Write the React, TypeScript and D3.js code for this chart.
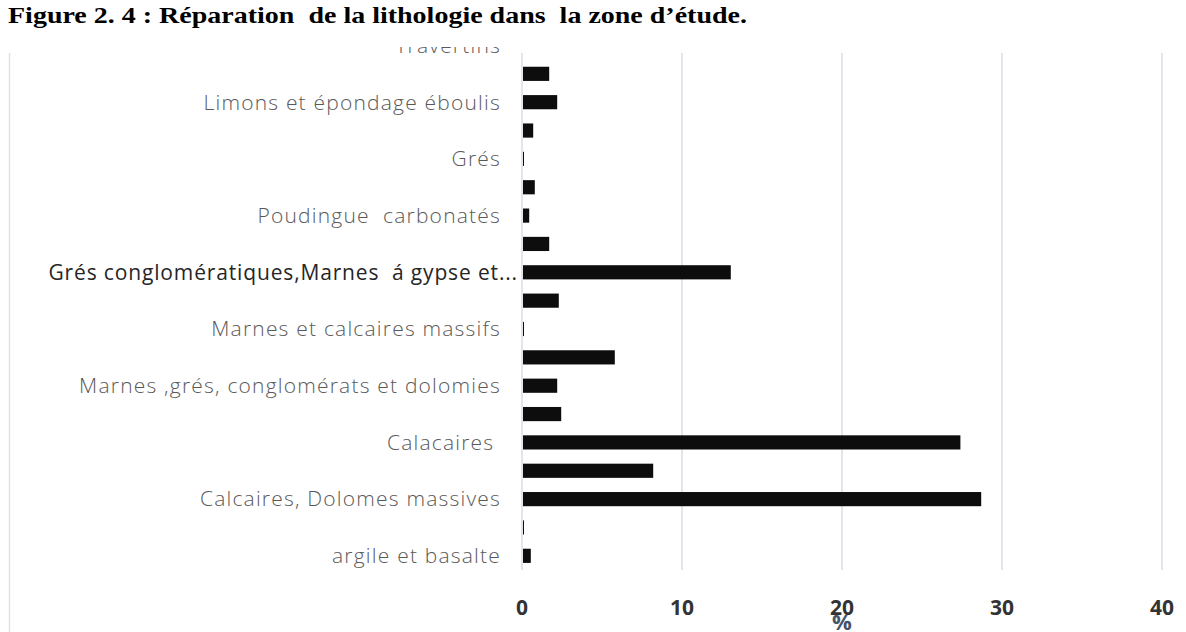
import React, { useEffect, useRef } from "react";
import * as d3 from "d3";

// top to bottom, as in the chart (Excel only shows every other label)
const categories = [
  "Travertins",
  "",
  "Limons et épondage éboulis",
  "",
  "Grés",
  "",
  "Poudingue  carbonatés",
  "",
  "Grés conglomératiques,Marnes  á gypse et...",
  "",
  "Marnes et calcaires massifs",
  "",
  "Marnes ,grés, conglomérats et dolomies",
  "",
  "Calacaires ",
  "",
  "Calcaires, Dolomes massives",
  "",
  "argile et basalte",
];
const values = [
  1.2, 1.7, 2.2, 0.7, 0.1, 0.8, 0.45, 1.7, 13.05, 2.3, 0.1, 5.8, 2.2, 2.45,
  27.4, 8.2, 28.7, 0.1, 0.55,
];
const ticks = [0, 10, 20, 30, 40];

const W = 1186;
const H = 632;

export default function App() {
  const ref = useRef<SVGSVGElement>(null);

  useEffect(() => {
    document.body.style.margin = "0";
    const svg = d3.select(ref.current);
    svg.selectAll("*").remove();

    const x = d3.scaleLinear().domain([0, 40]).range([522, 1162]);
    const y = d3
      .scaleBand<number>()
      .domain(d3.range(categories.length))
      .range([31.3, 570])
      .paddingInner(0.5)
      .paddingOuter(0.25);

    const defs = svg.append("defs");
    defs
      .append("clipPath")
      .attr("id", "plotClip")
      .append("rect")
      .attr("x", 0)
      .attr("y", 53)
      .attr("width", W)
      .attr("height", H - 53);
    defs
      .append("clipPath")
      .attr("id", "labelClip")
      .append("rect")
      .attr("x", 0)
      .attr("y", 47)
      .attr("width", W)
      .attr("height", H - 47);

    // chart border (left edge visible)
    svg
      .append("line")
      .attr("x1", 9.5)
      .attr("x2", 9.5)
      .attr("y1", 53)
      .attr("y2", H)
      .attr("stroke", "#dde1e8")
      .attr("stroke-width", 1.5);

    const plot = svg.append("g").attr("clip-path", "url(#plotClip)");

    // gridlines
    plot
      .selectAll(".grid")
      .data(ticks)
      .enter()
      .append("line")
      .attr("x1", (d) => x(d))
      .attr("x2", (d) => x(d))
      .attr("y1", 53)
      .attr("y2", 570)
      .attr("stroke", "#d9dde6")
      .attr("stroke-width", 1.5);

    // bars
    plot
      .selectAll(".bar")
      .data(values)
      .enter()
      .append("rect")
      .attr("x", x(0) + 1)
      .attr("y", (_d, i) => y(i)!)
      .attr("width", (d) => Math.max(1, x(d) - x(0) - 1))
      .attr("height", y.bandwidth())
      .attr("fill", "#0d0d0d");

    // category labels
    const labels = svg.append("g").attr("clip-path", "url(#labelClip)");
    categories.forEach((c, i) => {
      if (!c) return;
      const truncated = c.endsWith("...");
      labels
        .append("text")
        .attr("x", truncated ? 518 : 501)
        .attr("y", y(i)! + y.bandwidth() / 2)
        .attr("dy", "0.35em")
        .attr("text-anchor", "end")
        .style("white-space", "pre")
        .style("font-family", "'Open Sans', sans-serif")
        .style("font-size", "21px")
        .style("font-weight", truncated ? 400 : 300)
        .style("letter-spacing", truncated ? "0.85px" : "1.2px")
        .attr("fill", truncated ? "#262626" : "#595959")
        .text(c);
    });

    // x tick labels
    svg
      .selectAll(".tick")
      .data(ticks)
      .enter()
      .append("text")
      .attr("x", (d) => x(d))
      .attr("y", 615)
      .attr("text-anchor", "middle")
      .style("font-family", "'Open Sans', sans-serif")
      .style("font-size", "21px")
      .style("font-weight", 700)
      .attr("fill", "#333333")
      .text((d) => d);

    // axis title
    svg
      .append("text")
      .attr("x", x(20))
      .attr("y", 630)
      .attr("text-anchor", "middle")
      .style("font-family", "'Open Sans', sans-serif")
      .style("font-size", "22px")
      .style("font-weight", 700)
      .attr("fill", "#44546a")
      .text("%");

    // figure caption
    svg
      .append("text")
      .attr("x", 8)
      .attr("y", 23)
      .attr("textLength", 739)
      .attr("lengthAdjust", "spacingAndGlyphs")
      .style("white-space", "pre")
      .style("font-family", "'Liberation Serif', 'Times New Roman', serif")
      .style("font-size", "23px")
      .style("font-weight", 700)
      .attr("fill", "#000")
      .text("Figure 2. 4 : Réparation  de la lithologie dans  la zone d’étude.");
  }, []);

  return <svg ref={ref} width={W} height={H} style={{ display: "block" }} />;
}
